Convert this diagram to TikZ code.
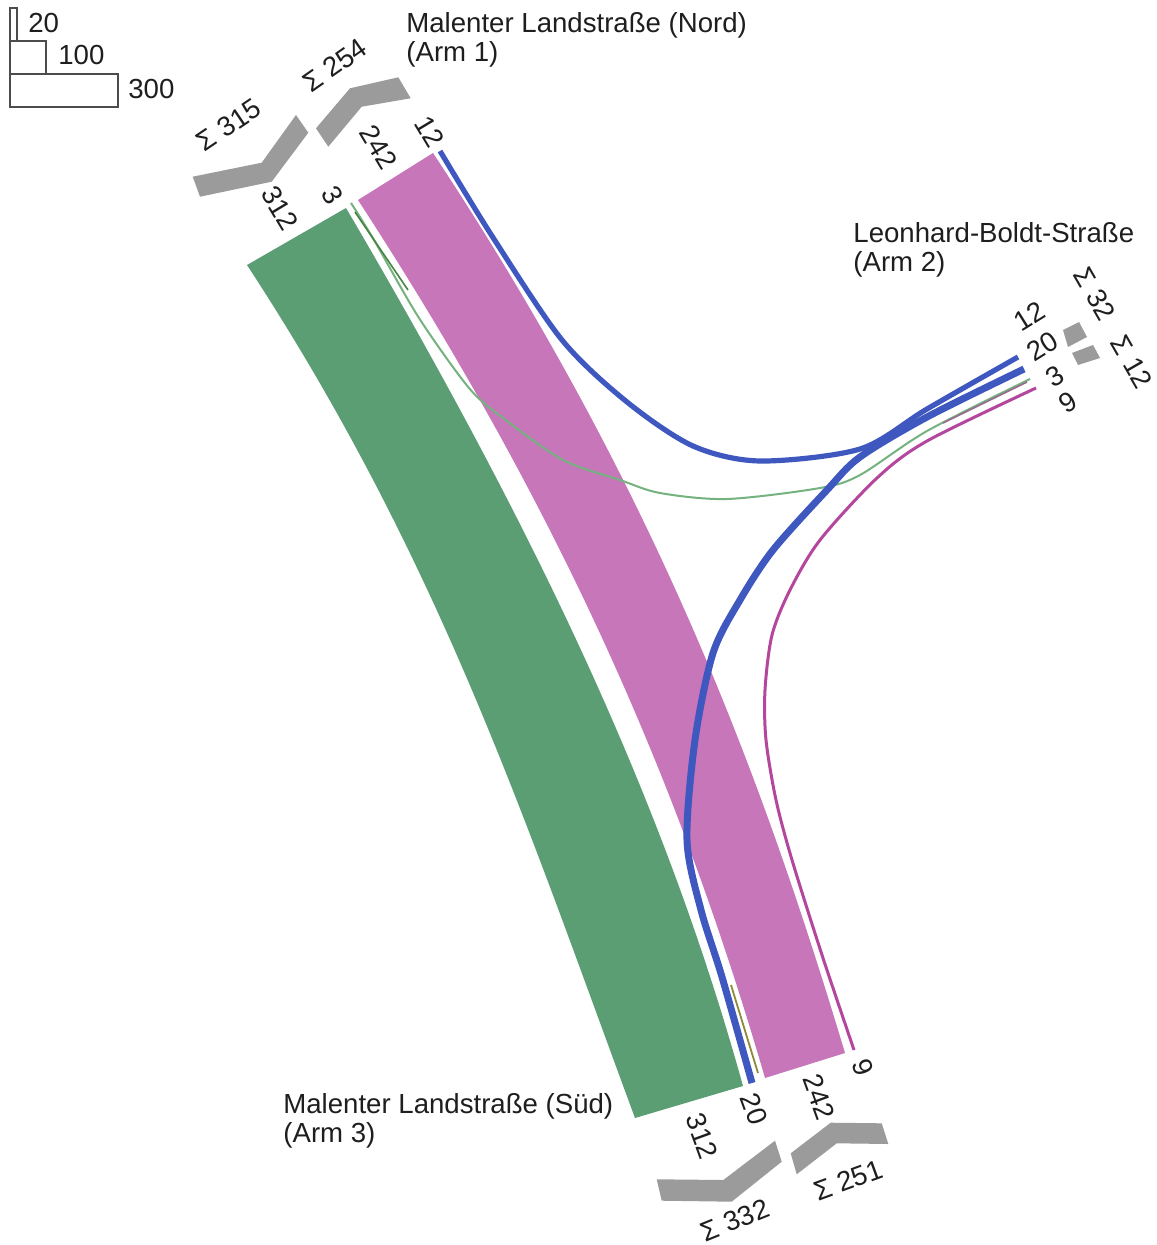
\documentclass[tikz,border=0pt]{standalone}
\usepackage{fontspec}
\setmainfont{Liberation Sans}
\newcommand\fsz{\fontsize{13.8}{14.5}\selectfont}
\definecolor{cgreen}{HTML}{5C9E74}
\definecolor{cmag}{HTML}{C776BA}
\definecolor{cblue}{HTML}{3F58C0}
\definecolor{tgreen}{HTML}{74B27F}
\definecolor{tmag}{HTML}{B5469E}
\definecolor{cgray}{HTML}{9B9B9B}
\definecolor{ctext}{HTML}{1E1E1E}
\begin{document}
\begin{tikzpicture}[x=0.5pt,y=-0.5pt,
  lbl/.style={font=\fsz,inner sep=0pt,text=ctext},
  ttl/.style={font=\fsz,inner sep=0pt,text=ctext,anchor=base west},
  legbox/.style={draw=black!70,line width=0.6pt},
  flowline/.style={line cap=butt,line join=round},
  sumbar/.style={fill=cgray},
]
\useasboundingbox (0,0) rectangle (1156,1245);
\fill[white] (0,0) rectangle (1156,1245);

% legend
\draw[legbox] (10,8) rectangle (17,41);
\draw[legbox] (10,41) rectangle (46,74);
\draw[legbox] (10,74) rectangle (118,107);
\node[lbl,anchor=base west] (lg20) at (28,33) {20};
\node[lbl,anchor=base west] (lg100) at (58,65) {100};
\node[lbl,anchor=base west] (lg300) at (128,99) {300};

% titles
\node[ttl] (t1a) at (406,33) {Malenter Landstraße (Nord)};
\node[ttl] (t1b) at (406,62) {(Arm 1)};
\node[ttl] (t2a) at (853,243) {Leonhard-Boldt-Straße};
\node[ttl] (t2b) at (853,272) {(Arm 2)};
\node[ttl] (t3a) at (283,1113) {Malenter Landstraße (Süd)};
\node[ttl] (t3b) at (283,1142) {(Arm 3)};

% green band 312 (Arm 1 -> Arm 3)
\fill[cgreen] (247,265) .. controls (440,560) and (524,818) .. (635,1118)
  -- (743,1086) .. controls (665,805) and (541,540) .. (346,208) -- cycle;

% magenta band 242 (Arm 3 -> Arm 1)
\fill[cmag] (358,200) .. controls (563,515) and (680,786) .. (765,1078)
  -- (845,1053) .. controls (758,763) and (651,483) .. (433,153) -- cycle;

% blue 12 (Arm 2 -> Arm 1)
\draw[flowline,cblue,line width=2.6pt] plot[smooth] coordinates {(1018,357) (927,409) (860,449) (760,461) (693,446) (627,402) (562,340) (492,236) (440,151)};

% green 3 (Arm 1 -> Arm 2)
\draw[flowline,tgreen,line width=1pt] plot[smooth] coordinates {(351,203) (374,240) (419,318) (469,388) (503,418) (563,460) (620,480) (660,493) (727,499) (820,488) (860,475) (927,431) (1030,379)};

% magenta 9 (Arm 3 -> Arm 2)
\draw[flowline,tmag,line width=1.5pt] plot[smooth] coordinates {(854,1050) (822,955) (792,860) (776,800) (766,740) (765,690) (772,635) (790,590) (820,540) (877,478) (927,441) (1036,388)};

% blue 20 (Arm 2 -> Arm 3)
\draw[flowline,cblue,line width=3.5pt] plot[smooth] coordinates {(1024,369) (927,417) (860,457) (827,490) (773,550) (740,600) (713,653) (695,740) (687,840) (701,910) (722,977) (752,1083)};

% short remnant segments
\draw[flowline,gray!70!green!80!black,line width=0.8pt] (355,212) -- (408,290);
\draw[flowline,tmag!60!black!70,line width=0.8pt] (943,423) -- (1027,382);
\draw[flowline,olive!60!gray,line width=0.9pt] (731,985) -- (758,1073);
\draw[white,line width=0.6pt,dash pattern=on 3pt off 1.5pt] (995,374) -- (1023,364);

% sum bars
\fill[sumbar] (192.7,176.7) -- (261.7,162.7) -- (296,115) -- (308.3,132.7) -- (271.7,181.7) -- (200,196.7) -- cycle;
\fill[sumbar] (316,128.3) -- (350,88.3) -- (398.3,77.3) -- (410.7,98.3) -- (361.7,106.7) -- (328.3,146.7) -- cycle;
\fill[sumbar] (656.7,1179.3) -- (723.3,1180) -- (775,1140.7) -- (781.7,1161.7) -- (731.7,1201.7) -- (661.7,1200.7) -- cycle;
\fill[sumbar] (790.7,1153.3) -- (830.7,1122.7) -- (881.7,1123.3) -- (888.3,1144) -- (836.7,1143.3) -- (796.7,1174.3) -- cycle;
\fill[sumbar] (1063,330) -- (1079,322) -- (1087,337) -- (1068,347) -- cycle;
\fill[sumbar] (1072,353) -- (1093,345) -- (1100,358) -- (1078,365) -- cycle;

% arm 1 labels
\node[lbl,rotate=-59] (a1n312) at (280,208) {312};
\node[lbl,rotate=-59] (a1n3) at (333,195) {3};
\node[lbl,rotate=-59] (a1n242) at (379,147) {242};
\node[lbl,rotate=-59] (a1n12) at (430,132) {12};
\node[lbl,rotate=34] (a1s315) at (229,125) {Σ 315};
\node[lbl,rotate=35] (a1s254) at (335,65) {Σ 254};

% arm 2 labels
\node[lbl,rotate=32] (a2n12) at (1029,316) {12};
\node[lbl,rotate=32] (a2n20) at (1042,346) {20};
\node[lbl,rotate=32] (a2n3) at (1055,376) {3};
\node[lbl,rotate=32] (a2n9) at (1068,402) {9};
\node[lbl,rotate=-60] (a2s32) at (1095,294) {Σ 32};
\node[lbl,rotate=-60] (a2s12) at (1132,362) {Σ 12};

% arm 3 labels
\node[lbl,rotate=-70] (a3n312) at (702,1136) {312};
\node[lbl,rotate=-70] (a3n20) at (754,1109) {20};
\node[lbl,rotate=-70] (a3n242) at (819,1097) {242};
\node[lbl,rotate=-70] (a3n9) at (863,1067) {9};
\node[lbl,rotate=22] (a3s332) at (735,1220) {Σ 332};
\node[lbl,rotate=20] (a3s251) at (848,1180) {Σ 251};
\end{tikzpicture}
\end{document}
